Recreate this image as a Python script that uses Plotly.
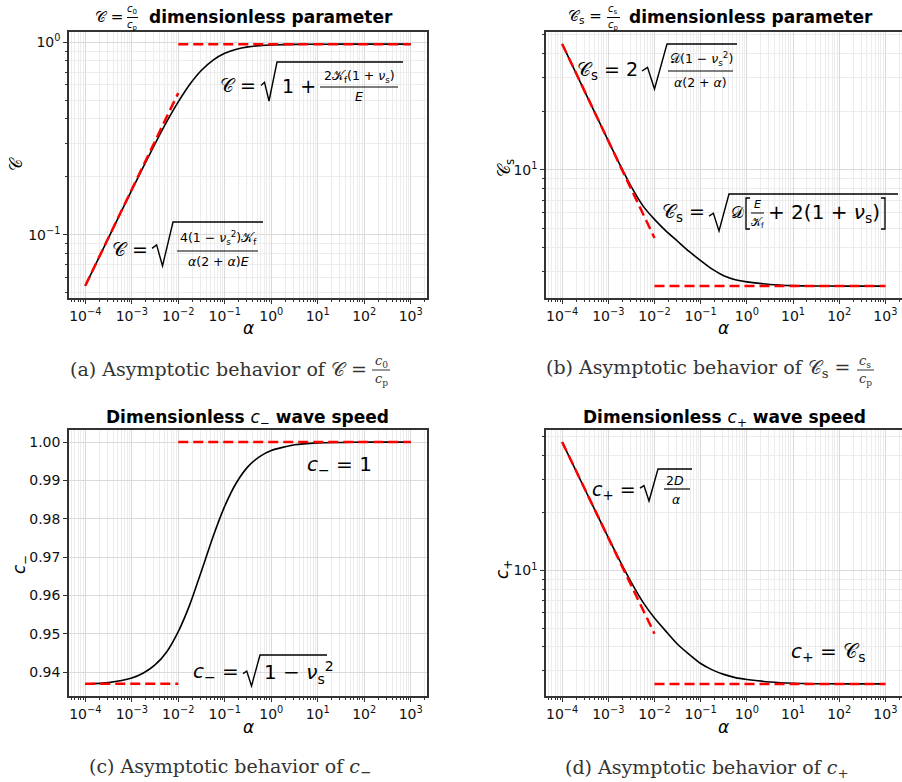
import plotly.graph_objects as go

W, H = 902, 782

# alpha values (quarter/half-decade steps) and curve values
alpha = [1e-4, 3.16e-4, 1e-3, 1.78e-3, 3.16e-3, 5.62e-3, 1e-2, 1.78e-2, 3.16e-2, 5.62e-2,
         0.1, 0.178, 0.316, 0.562, 1, 3.16, 10, 31.6, 100, 1000]

# (a) C = c0/cp
C_curve = [0.0545, 0.0967, 0.171, 0.226, 0.297, 0.386, 0.490, 0.605, 0.715, 0.808,
           0.876, 0.920, 0.946, 0.960, 0.968, 0.975, 0.9765, 0.977, 0.977, 0.977]
# (b) Cs = cs/cp
Cs_curve = [44.6, 25.06, 14.13, 10.64, 8.17, 6.53, 5.56, 4.84, 4.29, 3.80,
            3.41, 3.08, 2.85, 2.72, 2.65, 2.57, 2.535, 2.523, 2.52, 2.52]
# (c) c-
cm_curve = [0.9369, 0.9373, 0.9385, 0.9398, 0.9419, 0.9453, 0.9506, 0.9577, 0.9664, 0.9754,
            0.9833, 0.9894, 0.9936, 0.9962, 0.9978, 0.9993, 0.9998, 0.9999, 1.0, 1.0]
# (d) c+
cp_curve = [46.8, 26.3, 14.83, 11.22, 8.65, 6.84, 5.65, 4.81, 4.12, 3.65,
            3.27, 3.03, 2.87, 2.76, 2.70, 2.62, 2.58, 2.565, 2.56, 2.56]

# asymptotes (red dashed): small-alpha branch and large-alpha branch
low_x = [1e-4, 1e-2]
high_x = [1e-2, 1e3]
C_low = [0.0545, 0.545]
C_high = [0.977, 0.977]
Cs_low = [44.6, 4.46]
Cs_high = [2.52, 2.52]
cm_low = [0.937, 0.937]
cm_high = [1.0, 1.0]
cp_low = [46.8, 4.68]
cp_high = [2.56, 2.56]

x_decades = [-4, -3, -2, -1, 0, 1, 2, 3]


def sup_label(e):
    return "10<sup>" + str(e).replace("-", "\u2212") + "</sup>"


fig = go.Figure()

panels = [
    ("x", "y", C_curve, C_low, C_high),
    ("x2", "y2", Cs_curve, Cs_low, Cs_high),
    ("x3", "y3", cm_curve, cm_low, cm_high),
    ("x4", "y4", cp_curve, cp_low, cp_high),
]
for xa, ya, curve, lo, hi in panels:
    fig.add_trace(go.Scatter(x=alpha, y=curve, xaxis=xa, yaxis=ya, mode="lines",
                             line=dict(color="black", width=1.6, shape="spline", smoothing=0.6)))
    fig.add_trace(go.Scatter(x=low_x, y=lo, xaxis=xa, yaxis=ya, mode="lines",
                             line=dict(color="red", width=2.5, dash="10px,5px")))
    fig.add_trace(go.Scatter(x=high_x, y=hi, xaxis=xa, yaxis=ya, mode="lines",
                             line=dict(color="red", width=2.5, dash="10px,5px")))

# --- axes -------------------------------------------------------------
GRID = "#dadada"
MINOR_GRID = "#ececec"
LINE = "#333333"
tickfont = dict(family="DejaVu Sans", size=14, color="#111")
minor_vals = [m * 10.0 ** e for e in range(-5, 4) for m in range(2, 10)]


def common():
    return dict(showline=True, mirror=True, linecolor=LINE, linewidth=1.5,
                ticks="outside", ticklen=4, tickwidth=1, tickcolor=LINE,
                showgrid=True, gridcolor=GRID, gridwidth=1, zeroline=False,
                tickfont=tickfont)


def xaxis(x0, x1, anchor):
    d = common()
    d.update(domain=[x0 / W, x1 / W], anchor=anchor, type="log", range=[-4.35, 3.35],
             tickmode="array", tickvals=[10.0 ** e for e in x_decades],
             ticktext=[sup_label(e) for e in x_decades],
             minor=dict(tickmode="array", tickvals=minor_vals, ticks="outside", ticklen=2,
                        tickcolor=LINE, showgrid=True, gridcolor=MINOR_GRID))
    return d


def ylog(y0, y1, anchor, rng, exps):
    d = common()
    d.update(domain=[1 - y1 / H, 1 - y0 / H], anchor=anchor, type="log", range=rng,
             tickmode="array", tickvals=[10.0 ** e for e in exps],
             ticktext=[sup_label(e) for e in exps],
             minor=dict(tickmode="array", tickvals=minor_vals, ticks="outside", ticklen=2,
                        tickcolor=LINE, showgrid=True, gridcolor=MINOR_GRID))
    return d


ylin = common()
ylin.update(domain=[1 - 696 / H, 1 - 430 / H], anchor="x3", range=[0.93381, 1.00315],
            tickmode="array", tickvals=[0.94, 0.95, 0.96, 0.97, 0.98, 0.99, 1.00],
            ticktext=["0.94", "0.95", "0.96", "0.97", "0.98", "0.99", "1.00"])

fig.update_layout(
    xaxis=xaxis(69, 427, "y"),
    yaxis=ylog(32, 298, "x", [-1.327, 0.053], [-1, 0]),
    xaxis2=xaxis(546, 901.5, "y2"),
    yaxis2=ylog(32, 298, "x2", [0.340, 1.711], [1]),
    xaxis3=xaxis(69, 427, "y3"),
    yaxis3=ylin,
    xaxis4=xaxis(546, 901.5, "y4"),
    yaxis4=ylog(430, 696, "x4", [0.345, 1.733], [1]),
)

# --- text helpers (pixel positions) ----------------------------------
ann = []
shapes = []
MATH = "DejaVu Sans"
SERIF = "DejaVu Serif"


def text(x, y, s, size=19, xanchor="center", family=MATH, color="black", angle=0):
    ann.append(dict(x=x / W, y=1 - y / H, xref="paper", yref="paper", text=s, showarrow=False,
                    xanchor=xanchor, yanchor="middle", textangle=angle,
                    font=dict(family=family, size=size, color=color)))


def bar(x0, x1, y, w=1.2, color="black"):
    shapes.append(dict(type="line", xref="paper", yref="paper", x0=x0 / W, x1=x1 / W,
                       y0=1 - y / H, y1=1 - y / H, line=dict(color=color, width=w)))


def poly(pts, w=1.4):
    path = "M " + " L ".join(f"{px / W:.5f},{1 - py / H:.5f}" for px, py in pts)
    shapes.append(dict(type="path", xref="paper", yref="paper", path=path,
                       line=dict(color="black", width=w)))


def radical(x0, x1, xend, ytop, ybot, w=1.4):
    h = ybot - ytop
    dx = x1 - x0
    poly([(x0, ybot - 0.40 * h), (x0 + 0.22 * dx, ybot - 0.48 * h), (x0 + 0.5 * dx, ybot),
          (x1, ytop), (xend, ytop)], w)


CAL_C = "\U0001D49E"
CAL_K = "\U0001D4A6"
CAL_D = "\U0001D49F"
MINUS = "\u2212"
nu_s2 = "<i>\u03bd</i><sub>s</sub><sup>2</sup>"

# titles
text(125, 17, CAL_C + " =", 15, "right")
text(132, 10, "<i>c</i><sub>0</sub>", 10)
bar(127, 138, 17.5, 1)
text(132, 25, "<i>c</i><sub>p</sub>", 10)
text(147, 17, "<b>dimensionless parameter</b>", 17, "left")

text(604, 17, CAL_C + "<sub>s</sub> =", 15, "right")
text(613, 10, "<i>c</i><sub>s</sub>", 10)
bar(607, 620, 17.5, 1)
text(613, 25, "<i>c</i><sub>p</sub>", 10)
text(627, 17, "<b>dimensionless parameter</b>", 17, "left")

text(247, 419, "<b>Dimensionless </b><i>c</i><sub>" + MINUS + "</sub><b> wave speed</b>", 17)
text(724, 419, "<b>Dimensionless </b><i>c</i><sub>+</sub><b> wave speed</b>", 17)

# axis labels
for xc, yc in [(248, 328), (723, 328), (248, 727), (723, 727)]:
    text(xc, yc, "<i>\u03b1</i>", 17)
text(16, 164, CAL_C, 17, angle=-90)
text(505, 168, CAL_C + "<sub>s</sub>", 17, angle=-90)
text(20, 565, "<i>c</i><sub>" + MINUS + "</sub>", 17, angle=-90)
text(503, 570, "<i>c</i><sub>+</sub>", 17, angle=-90)

# (a) formulas
text(258, 85, CAL_C + " =", 19, "right")
radical(261, 277, 403, 62, 101)
text(280, 86, "1 +", 19, "left")
text(359, 77, "2" + CAL_K + "<sub>f</sub>(1 + <i>\u03bd</i><sub>s</sub>)", 12.5)
bar(320, 398, 87)
text(359, 97, "<i>E</i>", 12.5)

text(150, 249, CAL_C + " =", 19, "right")
radical(152, 173, 263, 222, 266)
text(218, 238, "4(1 " + MINUS + " " + nu_s2 + ")" + CAL_K + "<sub>f</sub>", 12.5)
bar(177, 258, 251)
text(218, 261, "<i>\u03b1</i>(2 + <i>\u03b1</i>)<i>E</i>", 12.5)

# (b) formulas
text(640, 71, CAL_C + "<sub>s</sub> = 2", 19, "right")
radical(642, 667, 737, 44, 89)
text(701, 59, CAL_D + "(1 " + MINUS + " " + nu_s2 + ")", 12.5)
bar(668, 733, 71)
text(700, 82, "<i>\u03b1</i>(2 + <i>\u03b1</i>)", 12.5)

text(707, 213, CAL_C + "<sub>s</sub> =", 19, "right")
radical(709, 729, 898, 194, 231)
text(737, 213, CAL_D, 16)
poly([(750, 198), (746, 198), (746, 229), (750, 229)], 1.3)      # left bracket
text(757, 204, "<i>E</i>", 11)
bar(751, 764, 213, 1)
text(757, 223, CAL_K + "<sub>f</sub>", 11)
text(766, 213, "+ 2(1 + <i>\u03bd</i><sub>s</sub>)", 20, "left")
poly([(881, 198), (885, 198), (885, 229), (881, 229)], 1.3)      # right bracket

# (c) formulas
text(339, 465, "<i>c</i><sub>" + MINUS + "</sub> = 1", 20)
text(241, 672, "<i>c</i><sub>" + MINUS + "</sub> =", 20, "right")
radical(243, 260, 327, 655, 686)
text(262, 672, "1 " + MINUS + " " + nu_s2, 20, "left")

# (d) formulas
text(638, 490, "<i>c</i><sub>+</sub> =", 19, "right")
radical(640, 658, 692, 469, 501)
text(675, 480, "2<i>D</i>", 12.5)
bar(664, 690, 489)
text(676, 499, "<i>\u03b1</i>", 12.5)
text(828, 652, "<i>c</i><sub>+</sub> = " + CAL_C + "<sub>s</sub>", 20)

# captions
CAP = "#333333"
text(369, 369, "(a) Asymptotic behavior of " + CAL_C + " =", 19, "right", SERIF, CAP)
text(381, 361, "<i>c</i><sub>0</sub>", 13, family=SERIF, color=CAP)
bar(372, 390, 370, 1, CAP)
text(381, 380, "<i>c</i><sub>p</sub>", 13, family=SERIF, color=CAP)

text(853, 368, "(b) Asymptotic behavior of " + CAL_C + "<sub>s</sub> =", 19, "right", SERIF, CAP)
text(865, 361, "<i>c</i><sub>s</sub>", 13, family=SERIF, color=CAP)
bar(857, 874, 370, 1, CAP)
text(865, 380, "<i>c</i><sub>p</sub>", 13, family=SERIF, color=CAP)

text(230, 767, "(c) Asymptotic behavior of <i>c</i><sub>" + MINUS + "</sub>", 19, family=SERIF, color=CAP)
text(707, 768, "(d) Asymptotic behavior of <i>c</i><sub>+</sub>", 19, family=SERIF, color=CAP)

fig.update_layout(
    width=W, height=H, margin=dict(l=0, r=0, t=0, b=0),
    paper_bgcolor="white", plot_bgcolor="white", showlegend=False,
    annotations=ann, shapes=shapes,
)

fig.write_html("out.html", config={"displayModeBar": False},
               post_script="document.body.style.margin='0';")
